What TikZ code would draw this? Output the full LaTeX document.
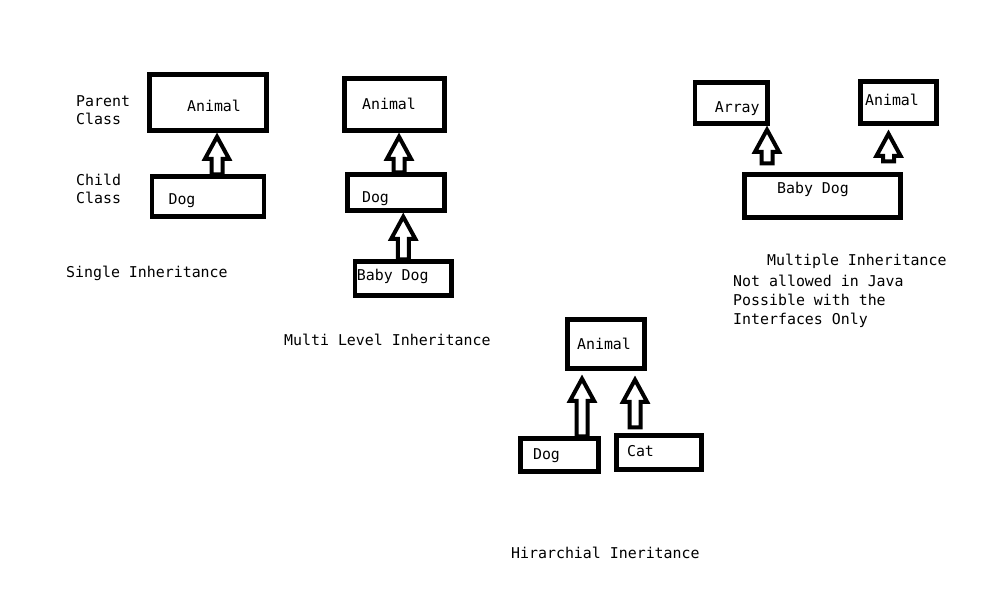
\documentclass[tikz,border=0pt]{standalone}
\usepackage{fontspec}
\setmonofont{DejaVu Sans Mono}
\usetikzlibrary{positioning,calc}
\tikzstyle{cls}=[rectangle, draw=black, line width=4.5pt, inner xsep=0pt, inner ysep=2pt, text height=11pt, text depth=0pt, font=\ttfamily\fontsize{14.9pt}{18pt}\selectfont]
\tikzstyle{txt}=[inner sep=0pt, anchor=base west, font=\ttfamily\fontsize{14.9pt}{18pt}\selectfont]
\tikzstyle{iarrow}=[draw=black, line width=4pt]
\tikzset{tr/.style={execute at begin node={\hspace*{#1}}},
         tl/.style={execute at end node={\hspace*{#1}}}}
% hollow inheritance arrow: child, parent, x offset, base gap, tip gap
\newcommand{\inharrow}[5]{%
 \draw[iarrow] let \p1=($(#1.north)+(#3pt,0)$), \p2=(#2.south) in
  (\x1-5.5pt,\y1+#4pt) -- (\x1-5.5pt,\y2-#5pt-22pt) -- (\x1-12pt,\y2-#5pt-22pt) -- (\x1,\y2-#5pt)
  -- (\x1+12pt,\y2-#5pt-22pt) -- (\x1+5.5pt,\y2-#5pt-22pt) -- (\x1+5.5pt,\y1+#4pt) -- cycle;}
\begin{document}
\begin{tikzpicture}[x=1pt,y=-1pt,node distance=0mm]
\path[fill=white] (0,0) rectangle (1000,600);
% single
\node (ANI1) [cls, minimum width=117pt, minimum height=56pt, text height=17pt, tr=12pt] at (208,102.5) {Animal};
\node (DOG1) [cls, below=41.5pt of ANI1, minimum width=112pt, minimum height=40pt, text height=15pt, tl=52pt] {Dog};
\inharrow{DOG1}{ANI1}{9}{0}{4}
\node (PAR1) [txt] at (76,106) {Parent};
\node (PAR2) [txt] at (76,124) {Class};
\node (CHI1) [txt] at (76,185) {Child};
\node (CHI2) [txt] at (76,203) {Class};
\node (SINGLE) [txt] at (66,277) {Single Inheritance};
% multi level
\node (ANI2) [cls, minimum width=100pt, minimum height=52pt, text height=9pt, tl=11pt] at (394.5,104.5) {Animal};
\node (DOG2) [cls, below=39.5pt of ANI2, xshift=1.5pt, minimum width=97pt, minimum height=36pt, text height=19pt, tl=41pt] {Dog};
\node (BDOG2) [cls, below=46.5pt of DOG2, xshift=7.25pt, minimum width=96.5pt, minimum height=34pt, text height=3pt, tl=21pt] {Baby Dog};
\inharrow{DOG2}{ANI2}{3}{0}{4}
\inharrow{BDOG2}{DOG2}{0}{0}{4}
\node (MULTI) [txt] at (284,345) {Multi Level Inheritance};
% hierarchical
\node (ANI3) [cls, minimum width=77pt, minimum height=49pt, text height=10pt, tl=4pt] at (606,344) {Animal};
\node (DOG3) [cls, below=65.5pt of ANI3, xshift=-46.5pt, minimum width=78pt, minimum height=33pt, text height=8pt, tl=26pt] {Dog};
\node (CAT3) [cls, below=62.5pt of ANI3, xshift=53pt, minimum width=85pt, minimum height=34pt, text height=7pt, tl=37pt] {Cat};
\inharrow{DOG3}{ANI3}{22.5}{0}{8}
\inharrow{CAT3}{ANI3}{-24}{6}{9}
\node (HIER) [txt] at (511,558) {Hirarchial Ineritance};
% multiple
\node (BDOG4) [cls, minimum width=156pt, minimum height=43pt, text height=0pt, text depth=6pt, tl=19pt] at (822.5,196) {Baby Dog};
\node (ARR4) [cls, above=46.5pt of BDOG4, xshift=-91.25pt, minimum width=72.5pt, minimum height=41pt, text height=18pt, tr=12pt] {Array};
\node (ANI4) [cls, above=46.5pt of BDOG4, xshift=76pt, minimum width=76pt, minimum height=42pt, text height=5pt, tl=13pt] {Animal};
\inharrow{BDOG4}{ARR4}{-55.5}{9}{4}
\inharrow{BDOG4}{ANI4}{66}{11}{8}
\node (MULT) [txt] at (767,265) {Multiple Inheritance};
\node (NOT) [txt] at (733,286) {Not allowed in Java};
\node (POSS) [txt] at (733,305) {Possible with the};
\node (INTF) [txt] at (733,324) {Interfaces Only};
\end{tikzpicture}
\end{document}
